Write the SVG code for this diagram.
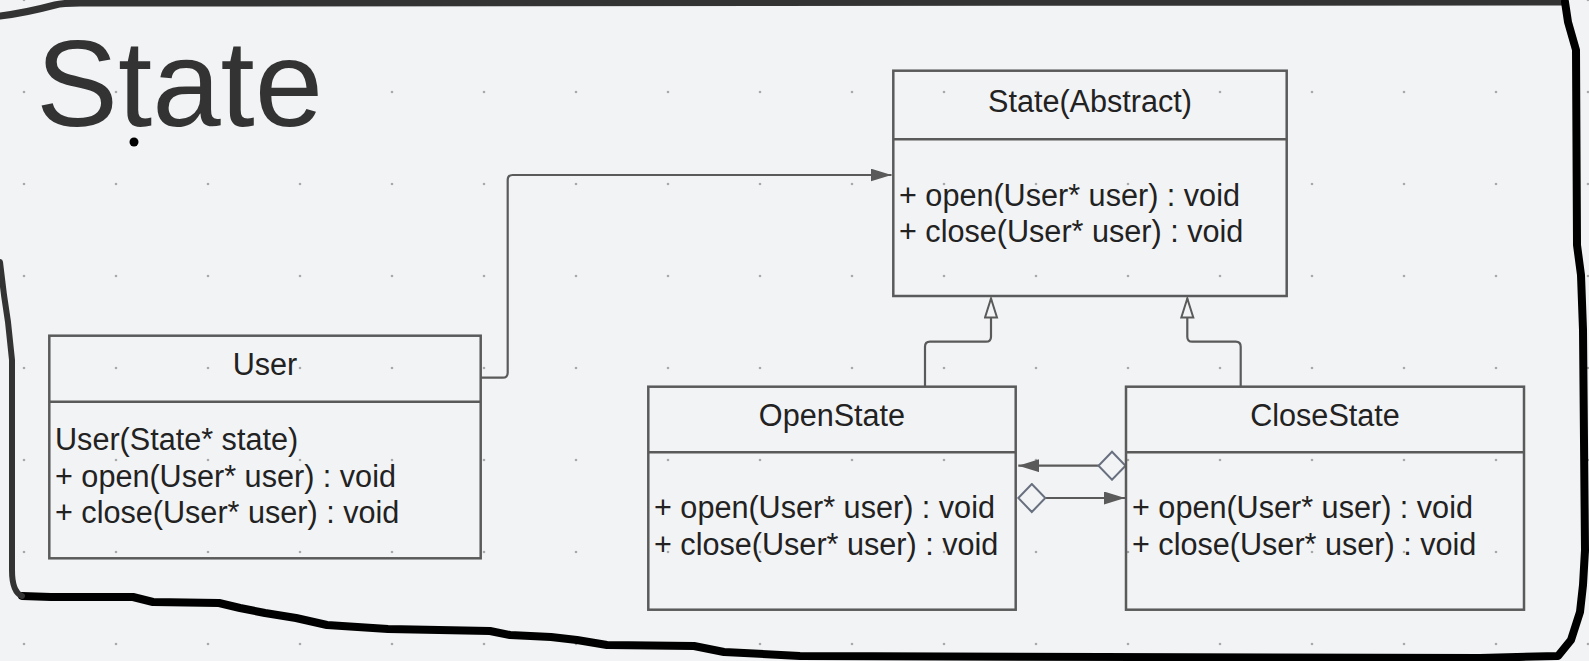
<svg xmlns="http://www.w3.org/2000/svg" width="1589" height="661" viewBox="0 0 1589 661">
<defs>
<style>
.bg{fill:#f2f3f5}
.box{fill:none;stroke:#5a5a5a;stroke-width:2.5}
.t{font-family:"Liberation Sans",Arial,sans-serif;font-size:30.6px;fill:#222}
.mid{text-anchor:middle}
.con{fill:none;stroke:#5a5a5a;stroke-width:2.2}
.agg{fill:none;stroke:#5a5a5a;stroke-width:2.2;marker-start:url(#diamond);marker-end:url(#arrow)}
.inh{fill:none;stroke:#5a5a5a;stroke-width:2.2;marker-end:url(#hollow)}
</style>
<pattern id="grid" patternUnits="userSpaceOnUse" x="-22" y="-46" width="92" height="92">
<circle cx="46" cy="46" r="1.3" fill="#a9a9a9"/>
</pattern>
<marker id="arrow" markerUnits="userSpaceOnUse" markerWidth="22" markerHeight="14" refX="21" refY="6.5" orient="auto">
<path d="M0,0 L21,6.5 L0,13 z" fill="#5a5a5a"/>
</marker>
<marker id="hollow" markerUnits="userSpaceOnUse" markerWidth="24" markerHeight="18" refX="20" refY="7" orient="auto">
<path d="M1,1 L20,7 L1,13 z" fill="#f2f3f5" stroke="#5a5a5a" stroke-width="2"/>
</marker>
<marker id="diamond" markerUnits="userSpaceOnUse" markerWidth="32" markerHeight="32" refX="1" refY="15" orient="auto">
<path d="M1,15 L14.5,1 L28,15 L14.5,29 z" fill="#f2f3f5" stroke="#687080" stroke-width="2"/>
</marker>
</defs>
<rect class="bg" x="0" y="0" width="1589" height="661"/>
<rect x="0" y="0" width="1589" height="661" fill="url(#grid)"/>
<g id="frame" fill="none" stroke-linecap="round" stroke-linejoin="round">
<path d="M0,16 C25,13 40,9 55,5 C62,3 70,3 80,3 L1565,2" stroke="#333" stroke-width="7"/>
<path d="M1565,2 L1568,22 L1576,50 L1577,245 L1581,275 L1583,330 L1585,550 L1583,585 L1580,612 L1571,640 L1558,656 L1480,658 L800,656 L724,652 L694,646 L607,645 L577,640 L551,637 L510,635 L490,631 L388,629 L327,625 L296,618 L265,613 L240,608 L219,603 L153,602 L133,597 L51,597 L22,596" stroke="#000" stroke-width="8"/>
<path d="M22,596 Q12,592 12,570 L12,360 L8,322 L4,295 L0,262" stroke="#333" stroke-width="6"/>
</g>
<g id="title">
<text x="36" y="126" font-family="'Liberation Sans',Arial,sans-serif" font-size="123" fill="#333">State</text>
<circle cx="134" cy="142" r="4.5" fill="#000"/>
</g>
<g id="connectors">
<path class="con" marker-end="url(#arrow)" d="M481,377.7 H502.7 Q507.7,377.7 507.7,372.7 V180 Q507.7,175 512.7,175 H891.5"/>
<path class="inh" d="M925,386.7 V346.7 Q925,341.7 930,341.7 H986 Q991,341.7 991,336.7 V298.5"/>
<path class="inh" d="M1240.7,386.7 V346.7 Q1240.7,341.7 1235.7,341.7 H1192.3 Q1187.3,341.7 1187.3,336.7 V298.5"/>
<path class="agg" d="M1125.5,465.7 H1018.3"/>
<path class="agg" d="M1018.3,498 H1125"/>
</g>
<g id="state-abstract">
<rect class="box" x="893.3" y="70.7" width="393.4" height="225.3"/>
<line class="box" x1="893.3" y1="139.3" x2="1286.7" y2="139.3"/>
<text class="t mid" x="1090" y="111.5">State(Abstract)</text>
<text class="t" x="899" y="205.7">+ open(User* user) : void</text>
<text class="t" x="899" y="242.3">+ close(User* user) : void</text>
</g>
<g id="user">
<rect class="box" x="49.3" y="335.7" width="431.4" height="222.6"/>
<line class="box" x1="49.3" y1="401.7" x2="480.7" y2="401.7"/>
<text class="t mid" x="265" y="375">User</text>
<text class="t" x="55" y="450">User(State* state)</text>
<text class="t" x="55" y="486.7">+ open(User* user) : void</text>
<text class="t" x="55" y="523.3">+ close(User* user) : void</text>
</g>
<g id="open-state">
<rect class="box" x="648.3" y="386.7" width="367.4" height="223"/>
<line class="box" x1="648.3" y1="452.3" x2="1015.7" y2="452.3"/>
<text class="t mid" x="832" y="425.7">OpenState</text>
<text class="t" x="654" y="518.3">+ open(User* user) : void</text>
<text class="t" x="654" y="555">+ close(User* user) : void</text>
</g>
<g id="close-state">
<rect class="box" x="1126" y="386.7" width="398" height="223"/>
<line class="box" x1="1126" y1="452.3" x2="1524" y2="452.3"/>
<text class="t mid" x="1325" y="425.7">CloseState</text>
<text class="t" x="1132" y="518.3">+ open(User* user) : void</text>
<text class="t" x="1132" y="555">+ close(User* user) : void</text>
</g>
</svg>
